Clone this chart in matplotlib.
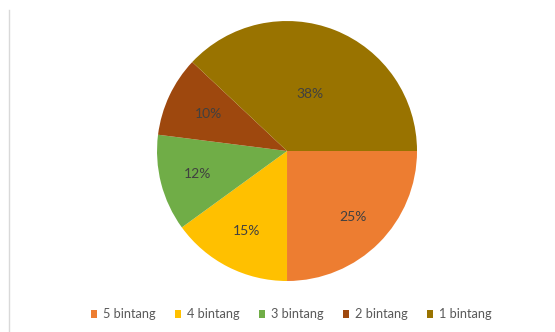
import numpy as np
import matplotlib.pyplot as plt
from matplotlib.lines import Line2D

# data
labels = ['5 bintang', '4 bintang', '3 bintang', '2 bintang', '1 bintang']
values = [25, 15, 12, 10, 38]
colors = ['#ED7D31', '#FFC000', '#70AD47', '#9E480E', '#997300']
# radial position of each percent label (fraction of radius), as placed in the picture
label_dist = [0.72, 0.69, 0.71, 0.665, 0.475]

plt.rcParams['font.family'] = ['Lato', 'DejaVu Sans']

fig = plt.figure(figsize=(5.55, 3.32), dpi=100)
ax = fig.add_axes([0.2829, 0.1536, 0.4685, 0.7831])

wedges, _ = ax.pie(values, colors=colors, startangle=0, counterclock=False,
                   radius=1.0, wedgeprops=dict(linewidth=0))
ax.set_xlim(-1, 1)
ax.set_ylim(-1, 1)
ax.set_aspect('equal')

for w, v, d in zip(wedges, values, label_dist):
    ang = np.deg2rad((w.theta1 + w.theta2) / 2)
    ax.text(d * np.cos(ang), d * np.sin(ang), f'{v}%', ha='center', va='center',
            fontsize=10, color='#404040')

fig.legend(wedges, labels, loc='center', bbox_to_anchor=(0.525, 0.053), ncol=5,
           frameon=False, fontsize=9.2, handlelength=0.5, handleheight=0.5,
           handletextpad=0.45, columnspacing=1.5, labelcolor='#595959')

fig.add_artist(Line2D([9 / 555, 9 / 555], [0, 1 - 10 / 332], color='#d9d9d9', linewidth=1))

fig.savefig('out.png', dpi=100)
